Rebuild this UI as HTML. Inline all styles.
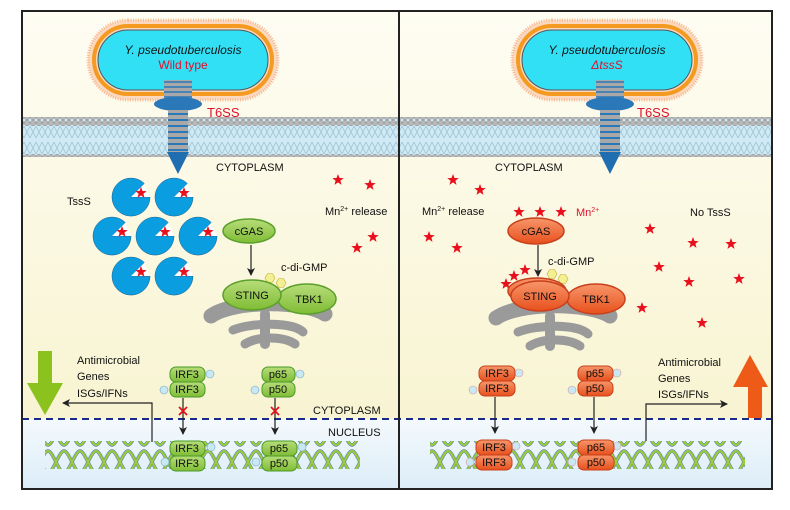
<!DOCTYPE html>
<html><head><meta charset="utf-8"><style>
html,body{margin:0;padding:0;background:#fff}
svg{display:block}
text{font-family:"Liberation Sans",Arial,sans-serif;}
</style></head><body>
<svg width="790" height="510" viewBox="0 0 790 510" xmlns="http://www.w3.org/2000/svg">
<defs>
<linearGradient id="cyto" x1="0" y1="0" x2="0" y2="1"><stop offset="0" stop-color="#fefdf3"/><stop offset="1" stop-color="#f8f4d2"/></linearGradient>
<linearGradient id="nuc" x1="0" y1="0" x2="0" y2="1"><stop offset="0" stop-color="#f4f9fc"/><stop offset="1" stop-color="#dcedf8"/></linearGradient>
<linearGradient id="gp" x1="0" y1="0" x2="0" y2="1"><stop offset="0" stop-color="#b7dd7a"/><stop offset="1" stop-color="#7fbc34"/></linearGradient>
<linearGradient id="op" x1="0" y1="0" x2="0" y2="1"><stop offset="0" stop-color="#f7966a"/><stop offset="1" stop-color="#e8501c"/></linearGradient>
<pattern id="mem" width="6" height="40" patternUnits="userSpaceOnUse">
<rect width="6" height="40" fill="#cfe9f5"/>
<path d="M0,6 L6,18 M6,6 L0,18 M0,22 L6,34 M6,22 L0,34" stroke="#9cc3d6" stroke-width="0.8"/>
<circle cx="3" cy="3" r="2.8" fill="#b8b8b8" stroke="#8a8a8a" stroke-width="0.5"/>
<circle cx="3" cy="37" r="2.8" fill="#b8b8b8" stroke="#8a8a8a" stroke-width="0.5"/>
</pattern>
<pattern id="dna" width="16" height="28" patternUnits="userSpaceOnUse">
<path d="M0,3 C5,3 11,25 16,25 M0,25 C5,25 11,3 16,3" fill="none" stroke="#5a7fb0" stroke-width="3.4"/>
<path d="M0,3 C5,3 11,25 16,25 M0,25 C5,25 11,3 16,3" fill="none" stroke="#9ccc3c" stroke-width="2.2"/>
</pattern>
<polygon id="star" points="0,-6 1.5,-2 5.7,-1.9 2.4,0.7 3.5,4.9 0,2.4 -3.5,4.9 -2.4,0.7 -5.7,-1.9 -1.5,-2" fill="#e8101c"/>
<g id="pac">
<path d="M0,0 L19,0 A19,19 0 1,1 13.4,-13.4 Z" fill="#0a9ee0" stroke="#1a5a8a" stroke-width="0.5"/>
<path d="M0,0 L19,0 L13.4,-13.4 Z" fill="#fff"/>
<use href="#star" x="10" y="-4"/>
</g>
<g id="bact">
<rect x="88" y="20" width="190" height="80" rx="40" fill="#fbd9c0" stroke="#f7b890" stroke-width="3" stroke-dasharray="1 1.5"/>
<rect x="94" y="26" width="178" height="68" rx="34" fill="none" stroke="#f59a20" stroke-width="4"/>
<rect x="98" y="30" width="170" height="60" rx="30" fill="#31e0f5" stroke="#555" stroke-width="1"/>
</g>
<g id="t6">
<rect x="-14" y="-92" width="28" height="18" fill="#a8a8a8"/>
<path d="M-14,-90 h28 M-14,-85 h28 M-14,-80 h28 M-14,-75 h28" stroke="#2a78b8" stroke-width="1.5"/>
<ellipse cx="0" cy="-68" rx="24" ry="7" fill="#2a78b8"/>
<rect x="-10" y="-62" width="20" height="42" fill="#a8a8a8"/>
<path d="M-10,-58 h20 M-10,-52 h20 M-10,-46 h20 M-10,-40 h20 M-10,-34 h20 M-10,-28 h20 M-10,-22 h20" stroke="#2a78b8" stroke-width="2"/>
<path d="M-11,-20 L11,-20 L0,2 Z" fill="#1e6eb0"/>
</g>
<g id="golgi" fill="none" stroke="#9a9a9a" stroke-linecap="round">
<path d="M8,12 C30,-4 100,-4 122,10" stroke-width="15"/>
<path d="M30,26 C50,18 90,18 100,28" stroke-width="9"/>
<path d="M42,40 C55,32 80,32 92,40" stroke-width="9"/>
<path d="M62,10 L62,40" stroke-width="10"/>
</g>
<polygon id="hex" points="5,0 2.5,4.3 -2.5,4.3 -5,0 -2.5,-4.3 2.5,-4.3" fill="#f4ef90" stroke="#c8b840" stroke-width="0.7"/>
<marker id="ah" markerWidth="8" markerHeight="8" refX="7" refY="4" orient="auto" markerUnits="userSpaceOnUse"><path d="M0,0 L8,4 L0,8 L2,4 Z" fill="#222"/></marker>
</defs>

<rect x="22" y="11" width="750" height="408" fill="url(#cyto)"/>
<rect x="22" y="419" width="750" height="70" fill="url(#nuc)"/>
<rect x="22" y="117" width="750" height="40" fill="url(#mem)"/>
<line x1="22" y1="419" x2="772" y2="419" stroke="#1a2a8a" stroke-width="2" stroke-dasharray="7 5"/>

<use href="#bact"/>
<text x="183" y="54" font-size="12" font-style="italic" text-anchor="middle" fill="#111">Y. pseudotuberculosis</text>
<text x="183" y="69" font-size="12" text-anchor="middle" fill="#e0102c">Wild type</text>
<use href="#t6" x="178" y="172"/>
<text x="207" y="117" font-size="13" fill="#e0102c">T6SS</text>
<text x="216" y="171" font-size="11" fill="#111">CYTOPLASM</text>
<text x="67" y="205" font-size="11" fill="#111">TssS</text>
<use href="#pac" x="131" y="197"/><use href="#pac" x="174" y="197"/>
<use href="#pac" x="112" y="236"/><use href="#pac" x="155" y="236"/><use href="#pac" x="198" y="236"/>
<use href="#pac" x="131" y="276"/><use href="#pac" x="174" y="276"/>
<use href="#star" x="338" y="180"/><use href="#star" x="370" y="185"/><use href="#star" x="373" y="237"/><use href="#star" x="357" y="248"/>
<text x="325" y="215" font-size="11" fill="#111">Mn<tspan font-size="7" dy="-4">2+</tspan><tspan dy="4"> release</tspan></text>
<ellipse cx="249" cy="231" rx="26" ry="12" fill="url(#gp)" stroke="#5aa02a" stroke-width="1.5"/>
<text x="249" y="235" font-size="11" text-anchor="middle" fill="#111">cGAS</text>
<line x1="251" y1="245" x2="251" y2="275" stroke="#222" stroke-width="1.2" marker-end="url(#ah)"/>
<text x="281" y="271" font-size="11" fill="#111">c-di-GMP</text>
<use href="#hex" x="270" y="278"/><use href="#hex" x="281" y="283"/>
<use href="#golgi" x="203" y="304"/>
<ellipse cx="307" cy="299" rx="29" ry="15" fill="url(#gp)" stroke="#5aa02a" stroke-width="1.5"/>
<ellipse cx="252" cy="295" rx="29" ry="15" fill="url(#gp)" stroke="#5aa02a" stroke-width="1.5"/>
<text x="252" y="299" font-size="11" text-anchor="middle" fill="#111">STING</text>
<text x="309" y="303" font-size="11" text-anchor="middle" fill="#111">TBK1</text>
<polygon points="38,351 52,351 52,383 63,383 45,415 27,383 38,383" fill="#8cc21e"/>
<text font-size="11" fill="#111"><tspan x="77" y="364">Antimicrobial</tspan><tspan x="77" y="380">Genes</tspan><tspan x="77" y="397">ISGs/IFNs</tspan></text>
<polyline points="152,442 152,403 63,403" fill="none" stroke="#222" stroke-width="1.2" marker-end="url(#ah)"/>
<g font-size="11" text-anchor="middle" fill="#111">
<circle cx="210" cy="374" r="4" fill="#c8e8f4" stroke="#7ab" stroke-width="0.6"/><circle cx="164" cy="390" r="4" fill="#c8e8f4" stroke="#7ab" stroke-width="0.6"/>
<rect x="170" y="367" width="35" height="15" rx="6" fill="url(#gp)" stroke="#4a9a2a"/>
<rect x="170" y="382" width="35" height="15" rx="6" fill="url(#gp)" stroke="#4a9a2a"/>
<text x="187" y="378">IRF3</text><text x="187" y="393">IRF3</text>
<circle cx="300" cy="374" r="4" fill="#c8e8f4" stroke="#7ab" stroke-width="0.6"/><circle cx="255" cy="390" r="4" fill="#c8e8f4" stroke="#7ab" stroke-width="0.6"/>
<rect x="262" y="367" width="33" height="15" rx="6" fill="url(#gp)" stroke="#4a9a2a"/>
<rect x="262" y="382" width="33" height="15" rx="6" fill="url(#gp)" stroke="#4a9a2a"/>
<text x="278" y="378">p65</text><text x="278" y="393">p50</text>
</g>
<line x1="183" y1="398" x2="183" y2="434" stroke="#222" stroke-width="1.2" marker-end="url(#ah)"/>
<line x1="275" y1="398" x2="275" y2="434" stroke="#222" stroke-width="1.2" marker-end="url(#ah)"/>
<path d="M179,407 l8,8 M187,407 l-8,8 M271,407 l8,8 M279,407 l-8,8" stroke="#e8101c" stroke-width="1.8"/>
<text x="313" y="414" font-size="11" fill="#111">CYTOPLASM</text>
<text x="328" y="436" font-size="11" fill="#111">NUCLEUS</text>
<rect x="45" y="441" width="315" height="28" fill="url(#dna)"/>
<g font-size="11" text-anchor="middle" fill="#111">
<circle cx="211" cy="447" r="4" fill="#c8e8f4" stroke="#7ab" stroke-width="0.6"/><circle cx="165" cy="462" r="4" fill="#c8e8f4" stroke="#7ab" stroke-width="0.6"/>
<rect x="170" y="441" width="35" height="15" rx="6" fill="url(#gp)" stroke="#4a9a2a"/>
<rect x="170" y="456" width="35" height="15" rx="6" fill="url(#gp)" stroke="#4a9a2a"/>
<text x="187" y="452">IRF3</text><text x="187" y="467">IRF3</text>
<circle cx="302" cy="447" r="4" fill="#c8e8f4" stroke="#7ab" stroke-width="0.6"/><circle cx="256" cy="462" r="4" fill="#c8e8f4" stroke="#7ab" stroke-width="0.6"/>
<rect x="262" y="441" width="35" height="15" rx="6" fill="url(#gp)" stroke="#4a9a2a"/>
<rect x="262" y="456" width="35" height="15" rx="6" fill="url(#gp)" stroke="#4a9a2a"/>
<text x="279" y="452">p65</text><text x="279" y="467">p50</text>
</g>

<use href="#bact" x="424"/>
<text x="607" y="54" font-size="12" font-style="italic" text-anchor="middle" fill="#111">Y. pseudotuberculosis</text>
<text x="607" y="69" font-size="12" font-style="italic" text-anchor="middle" fill="#e0102c">ΔtssS</text>
<use href="#t6" x="610" y="172"/>
<text x="637" y="117" font-size="13" fill="#e0102c">T6SS</text>
<text x="495" y="171" font-size="11" fill="#111">CYTOPLASM</text>
<text x="422" y="215" font-size="11" fill="#111">Mn<tspan font-size="7" dy="-4">2+</tspan><tspan dy="4"> release</tspan></text>
<text x="576" y="216" font-size="11" fill="#e0102c">Mn<tspan font-size="7" dy="-4">2+</tspan></text>
<text x="690" y="216" font-size="11" fill="#111">No TssS</text>
<g>
<use href="#star" x="453" y="180"/><use href="#star" x="480" y="190"/><use href="#star" x="429" y="237"/><use href="#star" x="457" y="248"/>
<use href="#star" x="519" y="212"/><use href="#star" x="540" y="212"/><use href="#star" x="561" y="212"/>
<use href="#star" x="650" y="229"/><use href="#star" x="693" y="243"/><use href="#star" x="731" y="244"/>
<use href="#star" x="659" y="267"/><use href="#star" x="689" y="282"/><use href="#star" x="739" y="279"/>
<use href="#star" x="642" y="308"/><use href="#star" x="702" y="323"/>
<use href="#star" x="506" y="284"/><use href="#star" x="514" y="276"/><use href="#star" x="525" y="270"/>
</g>
<ellipse cx="536" cy="231" rx="28" ry="13" fill="url(#op)" stroke="#c8401c" stroke-width="1.5"/>
<text x="536" y="235" font-size="11" text-anchor="middle" fill="#111">cGAS</text>
<line x1="538" y1="245" x2="538" y2="276" stroke="#222" stroke-width="1.2" marker-end="url(#ah)"/>
<text x="548" y="265" font-size="11" fill="#111">c-di-GMP</text>
<use href="#hex" x="552" y="274"/><use href="#hex" x="563" y="279"/>
<use href="#golgi" x="488" y="306"/>
<ellipse cx="596" cy="299" rx="29" ry="15" fill="url(#op)" stroke="#c8401c" stroke-width="1.5"/>
<ellipse cx="537" cy="291" rx="29" ry="13" fill="url(#op)" stroke="#c8401c" stroke-width="1.5"/>
<ellipse cx="540" cy="296" rx="29" ry="15" fill="url(#op)" stroke="#c8401c" stroke-width="1.5"/>
<text x="540" y="300" font-size="11" text-anchor="middle" fill="#111">STING</text>
<text x="596" y="303" font-size="11" text-anchor="middle" fill="#111">TBK1</text>
<g font-size="11" text-anchor="middle" fill="#111">
<circle cx="519" cy="373" r="4" fill="#c8e8f4" stroke="#d99" stroke-width="0.6"/><circle cx="473" cy="390" r="4" fill="#c8e8f4" stroke="#d99" stroke-width="0.6"/>
<rect x="479" y="366" width="36" height="15" rx="6" fill="url(#op)" stroke="#c8401c"/>
<rect x="479" y="381" width="36" height="15" rx="6" fill="url(#op)" stroke="#c8401c"/>
<text x="497" y="377">IRF3</text><text x="497" y="392">IRF3</text>
<circle cx="617" cy="373" r="4" fill="#c8e8f4" stroke="#d99" stroke-width="0.6"/><circle cx="572" cy="390" r="4" fill="#c8e8f4" stroke="#d99" stroke-width="0.6"/>
<rect x="578" y="366" width="35" height="15" rx="6" fill="url(#op)" stroke="#c8401c"/>
<rect x="578" y="381" width="35" height="15" rx="6" fill="url(#op)" stroke="#c8401c"/>
<text x="595" y="377">p65</text><text x="595" y="392">p50</text>
</g>
<line x1="495" y1="397" x2="495" y2="433" stroke="#222" stroke-width="1.2" marker-end="url(#ah)"/>
<line x1="594" y1="397" x2="594" y2="433" stroke="#222" stroke-width="1.2" marker-end="url(#ah)"/>
<text font-size="11" fill="#111"><tspan x="658" y="366">Antimicrobial</tspan><tspan x="658" y="382">Genes</tspan><tspan x="658" y="398">ISGs/IFNs</tspan></text>
<polyline points="646,441 646,404 727,404" fill="none" stroke="#222" stroke-width="1.2" marker-end="url(#ah)"/>
<polygon points="750,355 768,387 762,387 762,418 748,418 748,387 733,387" fill="#ee5a18"/>
<rect x="430" y="441" width="315" height="28" fill="url(#dna)"/>
<g font-size="11" text-anchor="middle" fill="#111">
<circle cx="516" cy="446" r="4" fill="#c8e8f4" stroke="#d99" stroke-width="0.6"/><circle cx="470" cy="462" r="4" fill="#c8e8f4" stroke="#d99" stroke-width="0.6"/>
<rect x="476" y="440" width="36" height="15" rx="6" fill="url(#op)" stroke="#c8401c"/>
<rect x="476" y="455" width="36" height="15" rx="6" fill="url(#op)" stroke="#c8401c"/>
<text x="494" y="451">IRF3</text><text x="494" y="466">IRF3</text>
<circle cx="617" cy="446" r="4" fill="#c8e8f4" stroke="#d99" stroke-width="0.6"/><circle cx="572" cy="462" r="4" fill="#c8e8f4" stroke="#d99" stroke-width="0.6"/>
<rect x="578" y="440" width="36" height="15" rx="6" fill="url(#op)" stroke="#c8401c"/>
<rect x="578" y="455" width="36" height="15" rx="6" fill="url(#op)" stroke="#c8401c"/>
<text x="596" y="451">p65</text><text x="596" y="466">p50</text>
</g>

<rect x="22" y="11" width="750" height="478" fill="none" stroke="#222" stroke-width="2"/>
<line x1="399" y1="11" x2="399" y2="489" stroke="#222" stroke-width="2"/>
</svg>
</body></html>
